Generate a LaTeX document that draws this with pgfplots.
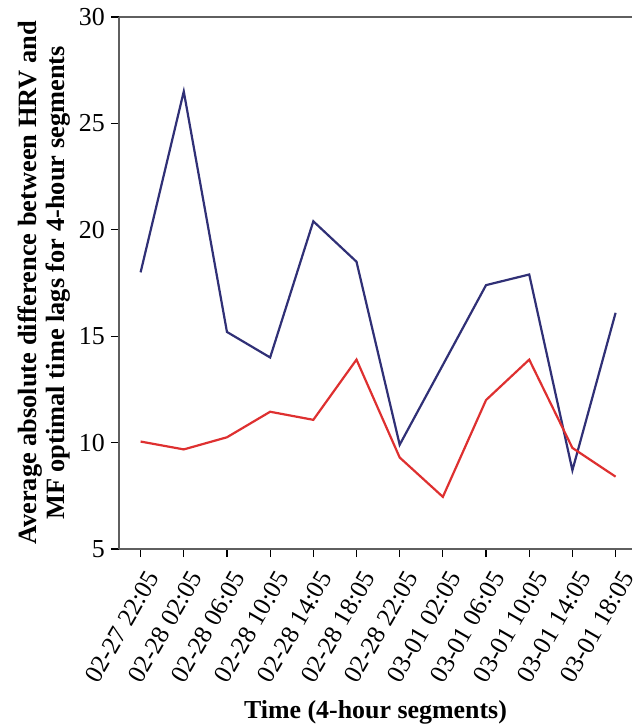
\documentclass[border=0pt]{standalone}
\usepackage{fontspec}
\setmainfont{Liberation Serif}
\usepackage{pgfplots}
\pgfplotsset{compat=1.18}
\definecolor{navy}{RGB}{48,48,118}
\definecolor{myred}{RGB}{222,48,48}
\definecolor{axgray}{RGB}{95,95,95}
\begin{document}
\begin{tikzpicture}
\useasboundingbox (-119bp,-178bp) rectangle (515bp,549bp);
\begin{axis}[
  scale only axis, width=513bp, height=532bp,
  xmin=-0.5, xmax=11.38, ymin=5, ymax=30,
  ytick={5,10,...,30},
  xtick={0,...,11},
  xticklabels={02-27 22:05,02-28 02:05,02-28 06:05,02-28 10:05,02-28 14:05,02-28 18:05,02-28 22:05,03-01 02:05,03-01 06:05,03-01 10:05,03-01 14:05,03-01 18:05},
  axis x line=box, axis y line*=left,
  xtick pos=bottom,
  tick align=outside,
  major tick length=8bp,
  tick style={black, line width=1.2bp},
  axis line style={axgray, line width=1.6bp},
  /pgf/number format/assume math mode=true,
  yticklabel style={font=\fontsize{26}{30}\selectfont, inner xsep=6bp, inner ysep=2bp},
  xticklabel style={font=\fontsize{25.5}{29}\selectfont, rotate=60, anchor=north east, inner xsep=8bp, inner ysep=10bp},
  xlabel={Time (4-hour segments)},
  xlabel style={font=\bfseries\fontsize{26}{30}\selectfont, at={(axis description cs:0.5,-0.318)}, anchor=base},
  ylabel={Average absolute difference between HRV and\\MF optimal time lags for 4-hour segments},
  ylabel style={font=\bfseries\fontsize{26.5}{29}\selectfont, align=center, at={(axis description cs:-0.146,0.5)}, anchor=center},
  clip=false,
]
\addplot[navy, line width=2.2bp] coordinates {
 (0,18.0) (1,26.5) (2,15.2) (3,14.0) (4,20.4) (5,18.5) (6,9.9) (7,13.65) (8,17.4) (9,17.9) (10,8.7) (11,16.1)};
\addplot[myred, line width=2.2bp] coordinates {
 (0,10.05) (1,9.68) (2,10.25) (3,11.45) (4,11.07) (5,13.9) (6,9.3) (7,7.45) (8,12.0) (9,13.9) (10,9.75) (11,8.4)};
\end{axis}
\end{tikzpicture}
\end{document}
